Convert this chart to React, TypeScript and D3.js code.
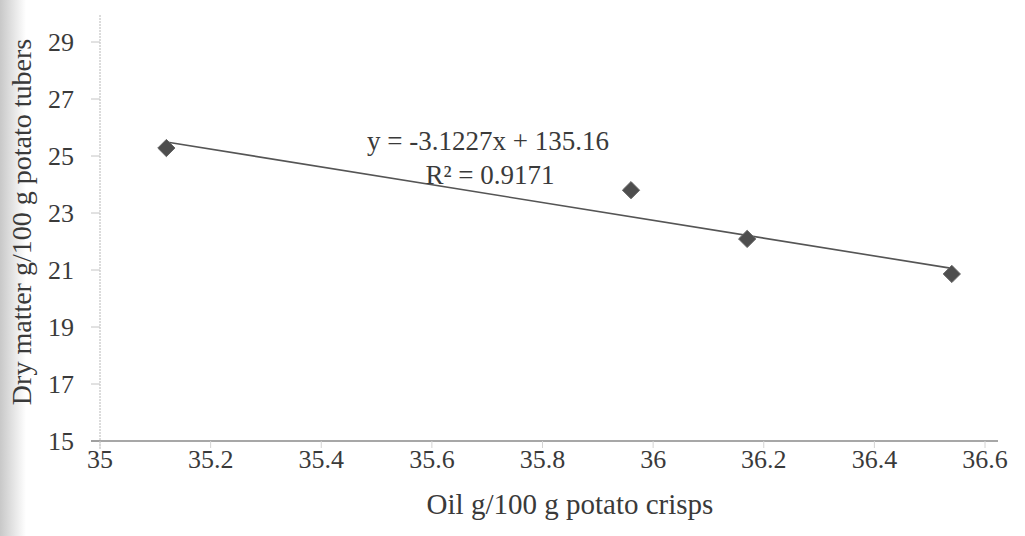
import React, { useEffect, useRef } from 'react';
import * as d3 from 'd3';

// measured points (oil in crisps vs dry matter in tubers)
const oilValues = [35.12, 35.96, 36.17, 36.54];
const dryMatterValues = [25.28, 23.8, 22.09, 20.86];
const xTicks = [35, 35.2, 35.4, 35.6, 35.8, 36, 36.2, 36.4, 36.6];
const yTicks = [15, 17, 19, 21, 23, 25, 27, 29];
const slope = -3.1227;
const intercept = 135.16;
const rSquared = '0.9171';

const W = 1025;
const H = 536;

const App: React.FC = () => {
  const svgRef = useRef<SVGSVGElement>(null);

  useEffect(() => {
    if (!svgRef.current) return;
    const svg = d3.select(svgRef.current);
    svg.selectAll('*').remove();

    const font = '"Liberation Serif", "Times New Roman", serif';
    const textColor = '#3a3a3a';

    const x = d3.scaleLinear().domain([35, 36.6]).range([100, 985]);
    const y = d3.scaleLinear().domain([15, 29]).range([441, 42]);

    // scan shadow on the left edge
    const defs = svg.append('defs');
    const grad = defs.append('linearGradient').attr('id', 'shade').attr('x1', 0).attr('x2', 1);
    grad.append('stop').attr('offset', 0).attr('stop-color', '#c8c8c8');
    grad.append('stop').attr('offset', 1).attr('stop-color', '#ffffff');
    svg.append('rect').attr('width', W).attr('height', H).attr('fill', '#fff');
    svg.append('rect').attr('width', 26).attr('height', H).attr('fill', 'url(#shade)');

    // y axis (dotted, light)
    svg.append('line')
      .attr('x1', x(35)).attr('x2', x(35))
      .attr('y1', 15).attr('y2', y(15) + 8)
      .attr('stroke', '#b8b8b8').attr('stroke-width', 1)
      .attr('stroke-dasharray', '2,1');

    const yAxis = svg.append('g');
    yTicks.forEach(t => {
      yAxis.append('line')
        .attr('x1', x(35) - 9).attr('x2', x(35))
        .attr('y1', y(t)).attr('y2', y(t))
        .attr('stroke', '#c4c4c4').attr('stroke-width', 1);
      yAxis.append('text')
        .attr('x', 74).attr('y', y(t))
        .attr('dy', '0.35em')
        .attr('text-anchor', 'end')
        .attr('font-family', font).attr('font-size', 26)
        .attr('fill', textColor)
        .text(t);
    });

    // x axis
    svg.append('line')
      .attr('x1', x(35) - 9).attr('x2', 998)
      .attr('y1', y(15)).attr('y2', y(15))
      .attr('stroke', '#8a8a8a').attr('stroke-width', 1.3);

    const xAxis = svg.append('g');
    xTicks.forEach(t => {
      xAxis.append('line')
        .attr('x1', x(t)).attr('x2', x(t))
        .attr('y1', y(15)).attr('y2', y(15) + 7)
        .attr('stroke', '#d4d4d4').attr('stroke-width', 1);
      xAxis.append('text')
        .attr('x', x(t)).attr('y', 468)
        .attr('text-anchor', 'middle')
        .attr('font-family', font).attr('font-size', 26)
        .attr('fill', textColor)
        .text(d3.format('~g')(t));
    });

    // axis titles
    svg.append('text')
      .attr('x', 570).attr('y', 514)
      .attr('text-anchor', 'middle')
      .attr('font-family', font).attr('font-size', 29)
      .attr('fill', textColor)
      .text('Oil g/100 g potato crisps');

    svg.append('text')
      .attr('transform', `translate(31, ${222}) rotate(-90)`)
      .attr('text-anchor', 'middle')
      .attr('font-family', font).attr('font-size', 28)
      .attr('fill', textColor)
      .text('Dry matter g/100 g potato tubers');

    // trend line
    const [xMin, xMax] = d3.extent(oilValues) as [number, number];
    const line = d3.line<number>()
      .x(d => x(d))
      .y(d => y(slope * d + intercept));
    svg.append('path')
      .datum([xMin, xMax])
      .attr('d', line)
      .attr('fill', 'none')
      .attr('stroke', '#555')
      .attr('stroke-width', 1.6);

    // points
    const diamond = d3.symbol().type(d3.symbolDiamond2).size(190);
    svg.append('g')
      .selectAll('path')
      .data(oilValues.map((o, i) => [o, dryMatterValues[i]]))
      .enter()
      .append('path')
      .attr('transform', d => `translate(${x(d[0])},${y(d[1])})`)
      .attr('d', diamond)
      .attr('fill', '#4e4e4e')
      .attr('stroke', '#666')
      .attr('stroke-width', 1);

    // equation label
    const eq = svg.append('text')
      .attr('text-anchor', 'middle')
      .attr('font-family', font).attr('font-size', 27)
      .attr('fill', textColor);
    eq.append('tspan')
      .attr('x', 488).attr('y', 150)
      .text(`y = ${slope}x  + ${intercept}`);
    eq.append('tspan')
      .attr('x', 490).attr('y', 184)
      .text(`R² = ${rSquared}`);
  }, []);

  return (
    <svg
      ref={svgRef}
      width={W}
      height={H}
      style={{ position: 'absolute', left: 0, top: 0, display: 'block' }}
    />
  );
};

export default App;
